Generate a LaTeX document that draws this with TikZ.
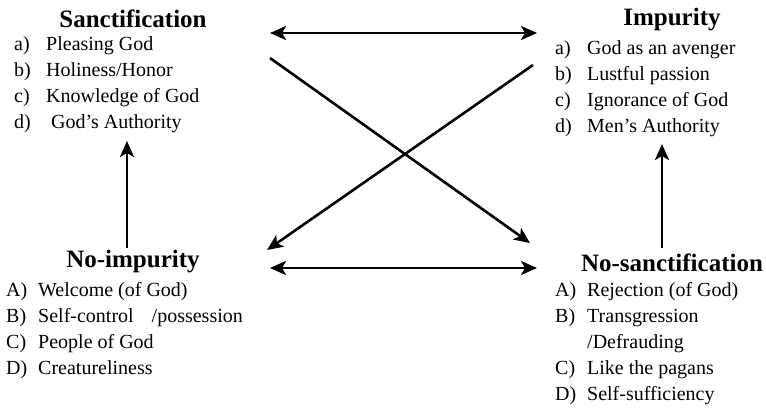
\documentclass[tikz,border=0pt]{standalone}
\usepackage{fontspec}
\setmainfont{Liberation Serif}
\usetikzlibrary{arrows.meta, positioning}
\tikzstyle{title} = [font=\fontsize{25}{30}\selectfont\bfseries, inner sep=0pt]
\tikzstyle{items} = [font=\fontsize{20}{26}\selectfont, align=left, anchor=west, inner sep=0pt]
\tikzstyle{arrow} = [line width=2.6pt,-{Stealth[length=16pt,width=14pt,inset=4pt]}]
\tikzstyle{both} = [line width=2.6pt,{Stealth[length=16pt,width=14pt,inset=4pt]}-{Stealth[length=16pt,width=14pt,inset=4pt]}]
\newcommand{\lbl}[1]{\makebox[32pt][l]{#1}}

\begin{document}
\begin{tikzpicture}[x=1pt, y=-1pt]
    \useasboundingbox (0,0) rectangle (766,408);
    % Titles
    \node (sanct) [title] at (133,19) {Sanctification};
    \node (impur) [title] at (672,20) {Impurity};
    \node (noimpur) [title] at (133,262) {No-impurity};
    \node (nosanct) [title] at (672,263) {No-sanctification};

    % Lists
    \node (sanctlist) [items] at (14,85) {\lbl{a)}Pleasing God\\ \lbl{b)}Holiness/Honor\\ \lbl{c)}Knowledge of God\\ \lbl{d)}\hspace{5pt}God’s Authority};
    \node (impurlist) [items] at (555,89) {\lbl{a)}God as an avenger\\ \lbl{b)}Lustful passion\\ \lbl{c)}Ignorance of God\\ \lbl{d)}Men’s Authority};
    \node (noimpurlist) [items] at (6,331) {\lbl{A)}Welcome (of God)\\ \lbl{B)}Self-control\hspace{18pt}/possession\\ \lbl{C)}People of God\\ \lbl{D)}Creatureliness};
    \node (nosanctlist) [items] at (555,344) {\lbl{A)}Rejection (of God)\\ \lbl{B)}Transgression\\ \lbl{}/Defrauding\\ \lbl{C)}Like the pagans\\ \lbl{D)}Self-sufficiency};

    % Arrow ends
    \coordinate (topL) at (270,33);
    \coordinate (topR) at (537,33);
    \coordinate (botL) at (270,268);
    \coordinate (botR) at (537,268);
    \coordinate (diagAs) at (270,58);
    \coordinate (diagAe) at (530,243);
    \coordinate (diagBs) at (533,65);
    \coordinate (diagBe) at (267,250);
    \coordinate (leftS) at (127,248);
    \coordinate (leftE) at (127,141);
    \coordinate (rightS) at (662,248);
    \coordinate (rightE) at (662,144);

    % Arrows
    \draw [both] (topL) -- (topR);
    \draw [both] (botL) -- (botR);
    \draw [arrow] (diagAs) -- (diagAe);
    \draw [arrow] (diagBs) -- (diagBe);
    \draw [arrow] (leftS) -- (leftE);
    \draw [arrow] (rightS) -- (rightE);
\end{tikzpicture}
\end{document}
